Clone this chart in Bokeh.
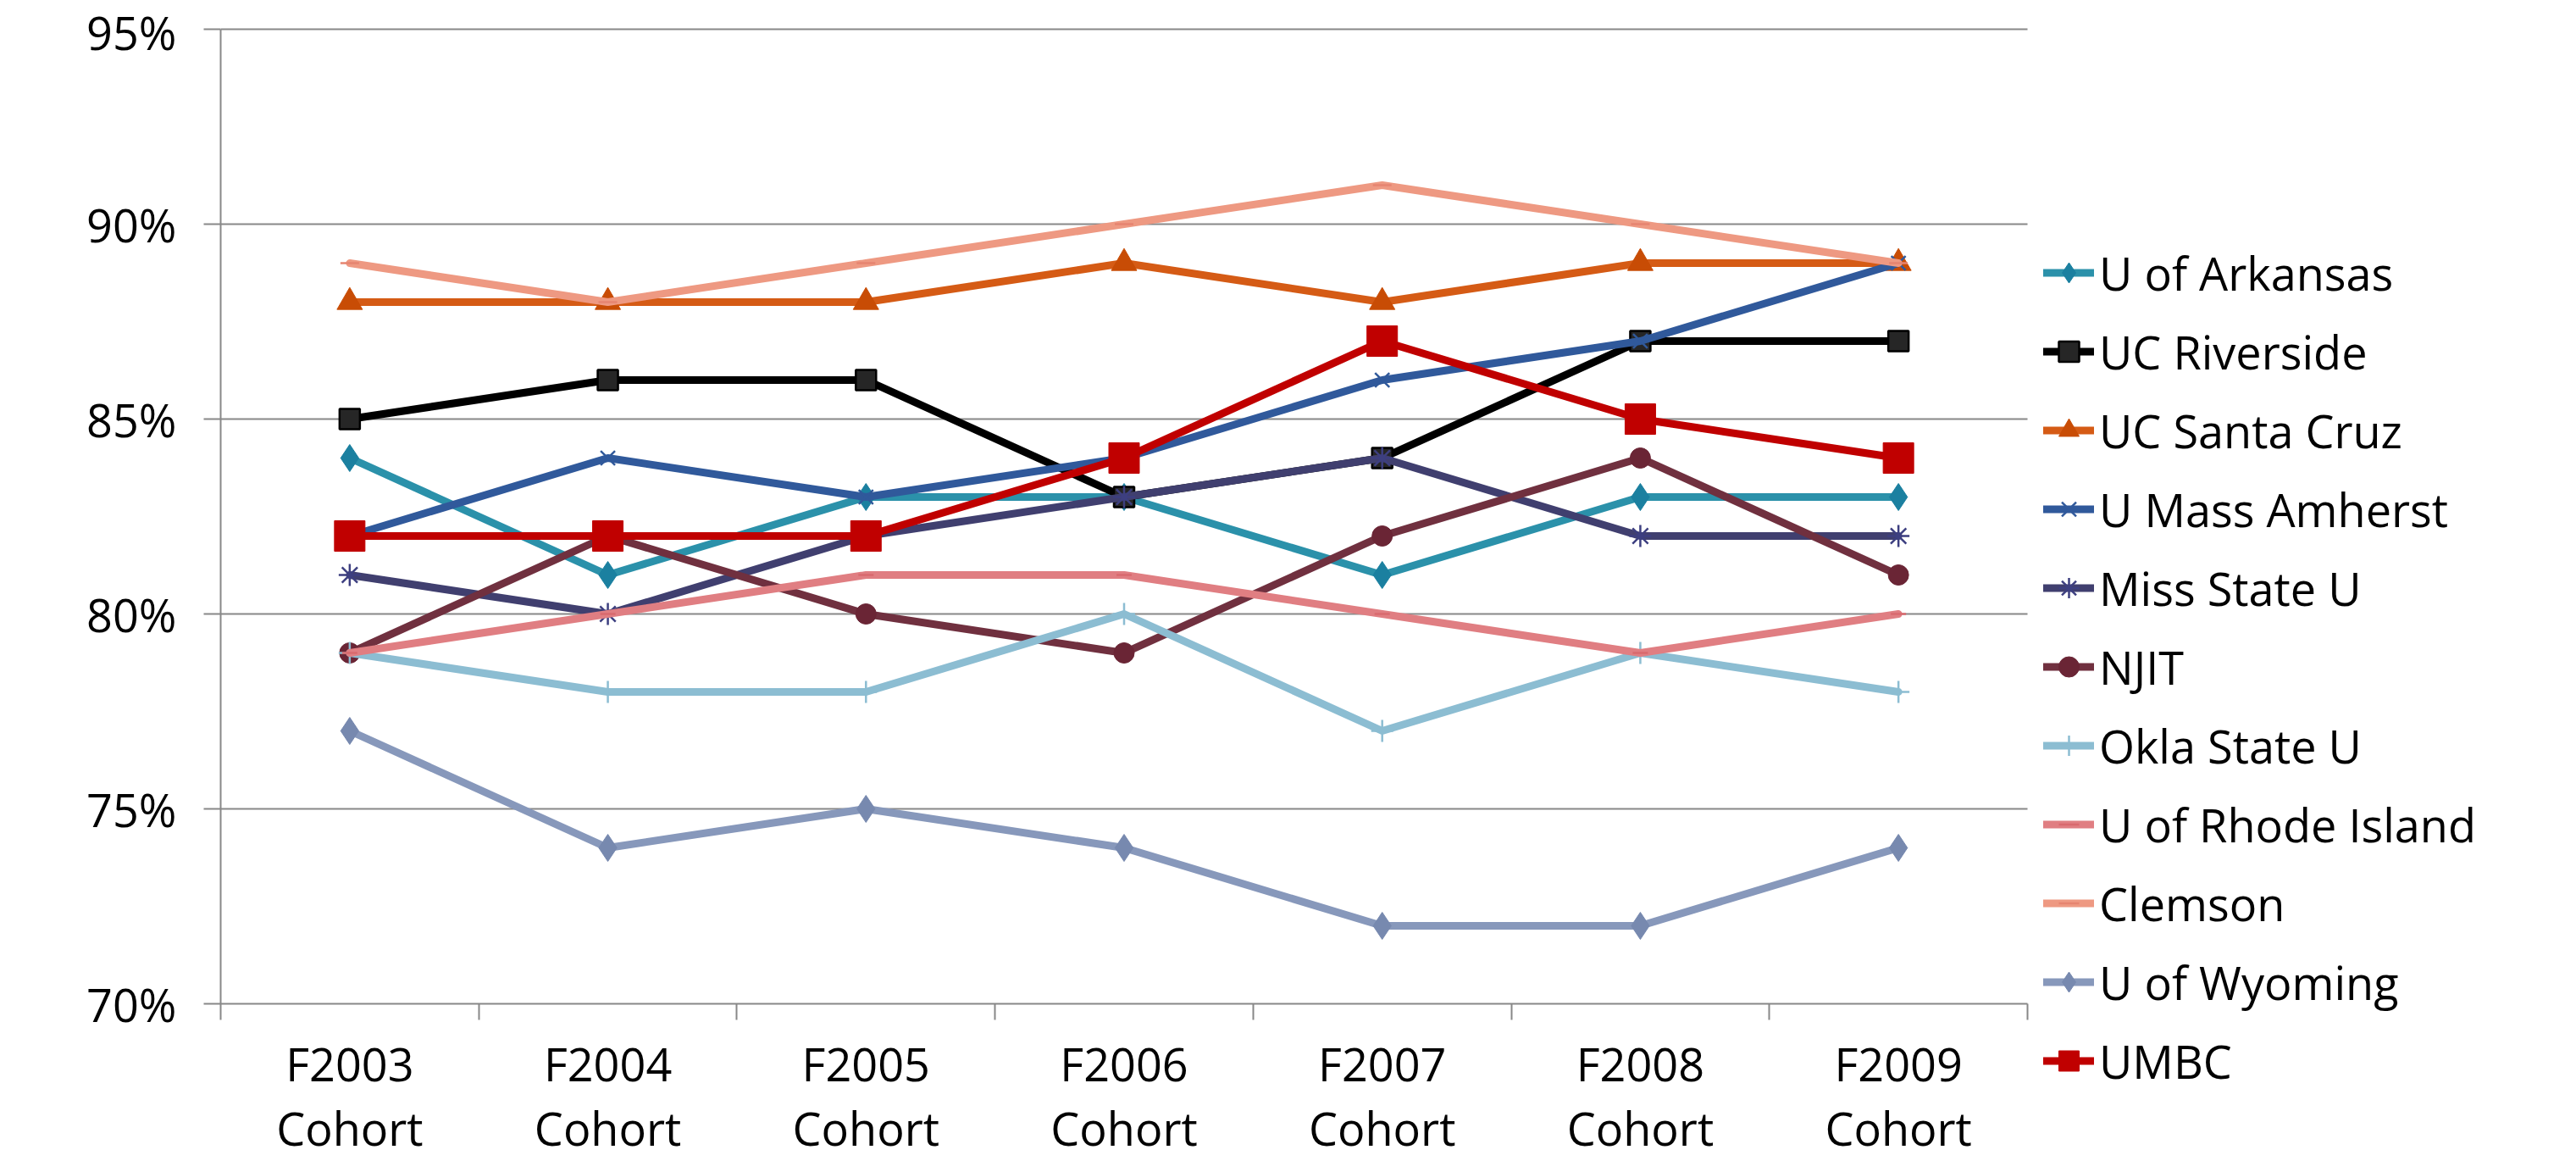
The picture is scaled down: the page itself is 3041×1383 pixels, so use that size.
from bokeh.plotting import figure
from bokeh.models import (FixedTicker, PrintfTickFormatter, Legend, LegendItem,
                          Range1d, Grid)
from bokeh.embed import file_html
from bokeh.resources import INLINE
from bokeh.core.properties import value

cohorts = ["F2003\nCohort", "F2004\nCohort", "F2005\nCohort", "F2006\nCohort",
           "F2007\nCohort", "F2008\nCohort", "F2009\nCohort"]
y_ticks = [70, 75, 80, 85, 90, 95]

u_arkansas = [84, 81, 83, 83, 81, 83, 83]
uc_riverside = [85, 86, 86, 83, 84, 87, 87]
uc_santa_cruz = [88, 88, 88, 89, 88, 89, 89]
u_mass_amherst = [82, 84, 83, 84, 86, 87, 89]
miss_state_u = [81, 80, 82, 83, 84, 82, 82]
njit = [79, 82, 80, 79, 82, 84, 81]
okla_state_u = [79, 78, 78, 80, 77, 79, 78]
u_rhode_island = [79, 80, 81, 81, 80, 79, 80]
clemson = [89, 88, 89, 90, 91, 90, 89]
u_wyoming = [77, 74, 75, 74, 72, 72, 74]
umbc = [82, 82, 82, 84, 87, 85, 84]

series = [
    ("U of Arkansas", u_arkansas, "#2B91AA", "diamond", "#1B80A0", 32),
    ("UC Riverside", uc_riverside, "#000000", "square", "#262626", 24),
    ("UC Santa Cruz", uc_santa_cruz, "#D55B15", "triangle", "#C84C05", 30),
    ("U Mass Amherst", u_mass_amherst, "#30599B", "x", "#30599B", 24),
    ("Miss State U", miss_state_u, "#403F6F", "asterisk", "#3D3F80", 26),
    ("NJIT", njit, "#70303F", "circle", "#6A2535", 24),
    ("Okla State U", okla_state_u, "#8CBDD2", "cross", "#8CBDD2", 26),
    ("U of Rhode Island", u_rhode_island, "#E07E82", "dash", "#D96A6E", 18),
    ("Clemson", clemson, "#EE9982", "dash", "#E68570", 22),
    ("U of Wyoming", u_wyoming, "#8798BB", "diamond", "#7789AF", 32),
    ("UMBC", umbc, "#C00000", "square", "#C00000", 36),
]

FONT = "Open Sans"
FS = "54px"
GRID = "#888888"

# layout (screen pixels)
W, H = 3020, 1367
LEFT, TOP = 260, 32
PLOT_W = 2133          # width taken by the 7 categories
PX_PER_PCT = 46.0      # vertical pixels per percentage point
TICK = 19              # outside tick length

n = len(cohorts)
frame_w = W - LEFT
frame_h = H - TOP
x_end = n * frame_w / PLOT_W
y_end = y_ticks[-1] + 2 / PX_PER_PCT
y_start = y_end - frame_h / PX_PER_PCT
tick_low = y_ticks[0] - TICK / PX_PER_PCT

p = figure(width=W, height=H, output_backend="svg", toolbar_location=None,
           x_range=Range1d(0, x_end), y_range=Range1d(y_start, y_end),
           x_axis_location=None,
           min_border_left=LEFT, min_border_right=0, min_border_top=TOP,
           min_border_bottom=0)
p.outline_line_color = None
p.background_fill_color = "white"
p.border_fill_color = "white"
for g in p.xgrid:
    g.visible = False
for g in p.ygrid:
    g.visible = False

# horizontal gridlines limited to the category span
hgrid = Grid(dimension=1, ticker=FixedTicker(ticks=y_ticks),
             grid_line_color=GRID, grid_line_width=2, cross_bounds=(0, n))
p.add_layout(hgrid)
# category boundary ticks below the 70% line
vtick = Grid(dimension=0, ticker=FixedTicker(ticks=list(range(n + 1))),
             grid_line_color=GRID, grid_line_width=2,
             cross_bounds=(tick_low, y_ticks[0]))
p.add_layout(vtick)

xs = [i + 0.5 for i in range(n)]

items = []
for name, vals, lc, mk, mc, ms in series:
    r1 = p.line(xs, vals, line_color=lc, line_width=9, line_join="round", line_cap="round")
    if mk in ("x", "asterisk", "cross", "dash"):
        r2 = p.scatter(xs, vals, marker=mk, size=ms, line_color=mc, line_width=2.5, fill_color=mc)
    elif name == "UC Riverside":
        r2 = p.scatter(xs, vals, marker=mk, size=ms, line_color="#000000", line_width=2.5, fill_color=mc)
    else:
        r2 = p.scatter(xs, vals, marker=mk, size=ms, line_color=mc, line_width=1, fill_color=mc)
    items.append(LegendItem(label=name, renderers=[r1, r2]))

# category labels under the axis
p.text(x=xs, y=[y_ticks[0]] * n, text=cohorts, y_offset=33,
       text_font=value(FONT), text_font_size=FS, text_color="black",
       text_align="center", text_baseline="top", text_line_height=1.04)

ya = p.yaxis[0]
ya.ticker = FixedTicker(ticks=y_ticks)
ya.formatter = PrintfTickFormatter(format="%d%%")
ya.bounds = (tick_low, y_ticks[-1])
ya.major_tick_out = 20
ya.major_tick_in = 0
ya.minor_tick_out = 0
ya.minor_tick_in = 0
ya.major_tick_line_color = GRID
ya.major_tick_line_width = 2
ya.axis_line_color = GRID
ya.axis_line_width = 2
ya.major_label_text_font = FONT
ya.major_label_text_font_size = FS
ya.major_label_text_color = "black"
ya.major_label_standoff = 32

legend = Legend(items=items, location=(2152, 69), orientation="vertical",
                glyph_width=60, glyph_height=93, label_height=93, spacing=0,
                padding=0, margin=0, label_standoff=6,
                label_text_font=FONT, label_text_font_size=FS,
                label_text_color="black", label_text_baseline="middle",
                border_line_alpha=0, background_fill_alpha=0)
p.add_layout(legend, "center")

open("out.html", "w").write(file_html(p, INLINE))
